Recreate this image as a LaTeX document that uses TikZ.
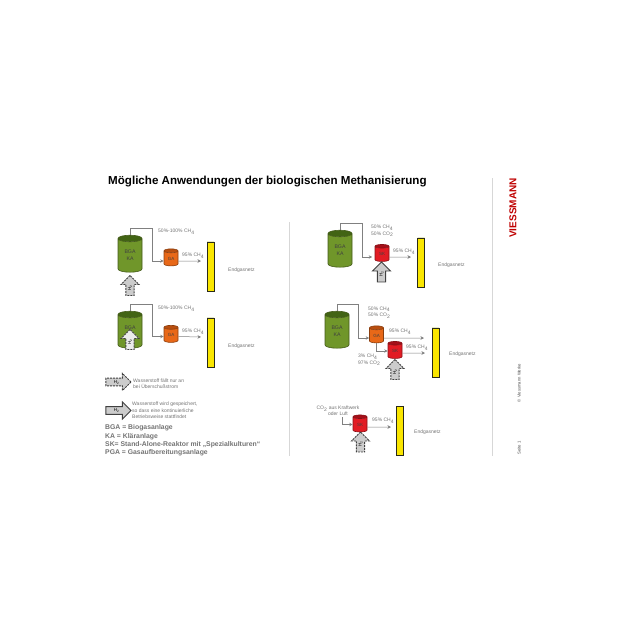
\documentclass[tikz,border=0pt]{standalone}
\usepackage{fontspec}
\setmainfont{Liberation Sans}
\usepackage{tikz}
\usetikzlibrary{arrows.meta, positioning, shapes.geometric, shapes.arrows}
\definecolor{vgreen}{RGB}{112,150,42}
\definecolor{vgreendark}{RGB}{66,100,20}
\definecolor{vorange}{RGB}{232,104,24}
\definecolor{vorangedark}{RGB}{185,78,15}
\definecolor{vred}{RGB}{226,28,36}
\definecolor{vreddark}{RGB}{165,15,25}
\definecolor{vyellow}{RGB}{250,230,0}
\definecolor{vdark}{RGB}{70,70,40}
\definecolor{vtext}{RGB}{115,115,115}
\definecolor{vrule}{RGB}{215,215,215}
\newcommand{\chvier}{CH\textsubscript{4}}
\newcommand{\cozwei}{CO\textsubscript{2}}

\begin{document}
\begin{tikzpicture}[
  x=1pt, y=-1pt,
  tank/.style={cylinder, shape border rotate=90, aspect=0.6, draw=#1!60!black, line width=0.6pt,
               cylinder uses custom fill, inner sep=0pt, align=center, text=black!75},
  bga/.style={tank=vgreen, cylinder body fill=vgreen, cylinder end fill=vgreendark,
              minimum width=24pt, minimum height=37pt, font=\fontsize{5.2}{7}\selectfont},
  ga/.style={tank=vorange, cylinder body fill=vorange, cylinder end fill=vorangedark,
             minimum width=14pt, minimum height=17pt, font=\fontsize{4.5}{5}\selectfont},
  sk/.style={tank=vred, cylinder body fill=vred, cylinder end fill=vreddark,
             minimum width=14pt, minimum height=17pt, font=\fontsize{4.5}{5}\selectfont},
  netz/.style={tank=vdark, cylinder body fill=vyellow, cylinder end fill=vgreendark,
               aspect=0.9, minimum width=7pt, minimum height=49pt},
  hzwei/.style={single arrow, single arrow head extend=3pt, single arrow tip angle=90,
                inner sep=0pt, fill=black!20, draw=black!75, line width=0.9pt,
                minimum width=18pt, minimum height=20pt, font=\fontsize{4.5}{5}\selectfont},
  hdash/.style={hzwei, dash pattern=on 2pt off 1pt},
  flow/.style={-{Stealth[length=3.5pt, width=3.5pt]}, line width=0.5pt, color=black!50},
  note/.style={font=\fontsize{5}{6.3}\selectfont, color=vtext, anchor=west, inner sep=0pt, align=left},
  legend/.style={font=\bfseries\fontsize{6.85}{8}\selectfont, color=vtext, anchor=west, inner sep=0pt}
]
  \useasboundingbox (0,0) rectangle (630,630);

  \node[font=\bfseries\fontsize{11.6}{14}\selectfont, anchor=west, inner sep=0pt] (title) at (108,181.5)
    {Mögliche Anwendungen der biologischen Methanisierung};

  \coordinate (sep1a) at (289,222);
  \coordinate (sep1b) at (289,456);
  \coordinate (sep2a) at (492,178);
  \coordinate (sep2b) at (492,456);
  \draw[vrule, line width=0.6pt] (sep1a) -- (sep1b);
  \draw[vrule, line width=0.6pt] (sep2a) -- (sep2b);

  \node[rotate=90, font=\bfseries\fontsize{10}{12}\selectfont, text=red!75!black, inner sep=0pt] (logo) at (513,208) {VIESSMANN};
  \node[rotate=90, font=\fontsize{4.2}{5}\selectfont, text=black!70, inner sep=0pt] (copyr) at (519,383) {© Viessmann Werke};
  \node[rotate=90, font=\fontsize{4.2}{5}\selectfont, text=black!70, inner sep=0pt] (page) at (519,448) {Seite 1};

  % links oben
  \node[bga]  (bgaA)  at (130,255.5) {BGA\\KA};
  \node[ga]   (gaA)   at (171,258.5) {GA};
  \node[netz] (netzA) at (210.5,266.5) {};
  \node[hdash, rotate=90] (hA) at (130,287.5) {H\textsubscript{2}};
  \node[note] (pctA)  at (158,232) {50\%-100\% \chvier};
  \node[note] (outA)  at (182,256) {95\% \chvier};
  \node[note] (endA)  at (228,270) {Endgasnetz};
  \coordinate (kneeA) at (152,228);
  \coordinate (endpA) at (201,261);
  \draw[flow] (bgaA.north) |- (kneeA) |- ([yshift=-2.5pt]gaA.west);
  \draw[flow] ([yshift=-2.5pt]gaA.east) -- (endpA);

  % links unten
  \node[bga]  (bgaB)  at (130,331.5) {BGA\\[0pt]};
  \node[ga]   (gaB)   at (171,335) {GA};
  \node[netz] (netzB) at (210.5,342.5) {};
  \node[hdash, rotate=90, fill=black!8] (hB) at (130,341.5) {H\textsubscript{2}};
  \node[note] (pctB)  at (158,309) {50\%-100\% \chvier};
  \node[note] (outB)  at (182,332) {95\% \chvier};
  \node[note] (endB)  at (228,346) {Endgasnetz};
  \coordinate (kneeB) at (152,304);
  \coordinate (endpB) at (201,337);
  \draw[flow] (bgaB.north) |- (kneeB) |- ([yshift=-1.5pt]gaB.west);
  \draw[flow] ([yshift=-1.5pt]gaB.east) -- (endpB);

  % Legende
  \node[hdash, minimum height=25pt, minimum width=17pt] (keyA) at (116.5,382) {H\textsubscript{2}};
  \node[hzwei, minimum height=25pt, minimum width=17pt] (keyB) at (116.5,410.5) {H\textsubscript{2}};
  \node[note] (keyAtxt) at (133,384) {Wasserstoff fällt nur an\\bei Überschußstrom};
  \node[note] (keyBtxt) at (132,410.5) {Wasserstoff wird gespeichert,\\so dass eine kontinuierliche\\Betriebsweise stattfindet};
  \node[legend] (legA) at (105,428) {BGA = Biogasanlage};
  \node[legend] (legB) at (105,436.5) {KA = Kläranlage};
  \node[legend] (legC) at (105,444.5) {SK= Stand-Alone-Reaktor mit  „Spezialkulturen“};
  \node[legend] (legD) at (105,453) {PGA = Gasaufbereitungsanlage};

  % rechts oben
  \node[bga]  (bgaC)  at (340,250.5) {BGA\\KA};
  \node[sk]   (skC)   at (382,254) {SK};
  \node[netz] (netzC) at (421,262.5) {};
  \node[hzwei, rotate=90] (hC) at (381.5,274) {H\textsubscript{2}};
  \node[note] (pctC)  at (371,231) {50\% \chvier\\50\% \cozwei};
  \node[note] (outC)  at (393,252) {95\% \chvier};
  \node[note] (endC)  at (438,265) {Endgasnetz};
  \coordinate (kneeC) at (362,223);
  \coordinate (endpC) at (411,257);
  \draw[flow] (bgaC.north) |- (kneeC) |- ([yshift=-3pt,xshift=-2.5pt]skC.west);
  \draw[flow] ([yshift=-3pt]skC.east) -- (endpC);

  % rechts mitte
  \node[bga]  (bgaD)  at (337,331.5) {BGA\\KA};
  \node[ga]   (gaD)   at (376.5,335.5) {GA};
  \node[sk]   (skD)   at (395,351) {SK};
  \node[netz] (netzD) at (435.5,352.5) {};
  \node[hdash, rotate=90] (hD) at (395,371.5) {H\textsubscript{2}};
  \node[note] (pctD)  at (368,312.5) {50\% \chvier\\50\% \cozwei};
  \node[note] (outD)  at (389,332) {95\% \chvier};
  \node[note] (outE)  at (406,348) {95\% \chvier};
  \node[note] (restD) at (358,360) {3\% \chvier\\97\% \cozwei};
  \node[note] (endD)  at (449,354) {Endgasnetz};
  \coordinate (kneeD) at (358,304);
  \coordinate (endpD) at (424,338);
  \coordinate (endpE) at (425,353);
  \draw[flow] (bgaD.north) |- (kneeD) |- ([yshift=-2.5pt]gaD.west);
  \draw[flow] ([yshift=-2.5pt]gaD.east) -- (endpD);
  \draw[flow] (gaD.south) |- (skD.west);
  \draw[flow] ([yshift=-2pt]skD.east) -- (endpE);

  % rechts unten
  \node[sk]   (skF)   at (360,424.5) {SK};
  \node[netz] (netzF) at (400,431) {};
  \node[hdash, rotate=90] (hF) at (360.5,444) {H\textsubscript{2}};
  \node[note, anchor=center, align=center] (coF) at (338,411) {\cozwei{} aus Kraftwerk\\oder Luft};
  \node[note] (outF)  at (372,421) {95\% \chvier};
  \node[note] (endF)  at (414,432) {Endgasnetz};
  \coordinate (startF) at (342,417);
  \coordinate (endpF) at (391,427);
  \draw[flow] (startF) |- (skF.west);
  \draw[flow] ([yshift=-2.5pt]skF.east) -- (endpF);
\end{tikzpicture}
\end{document}
